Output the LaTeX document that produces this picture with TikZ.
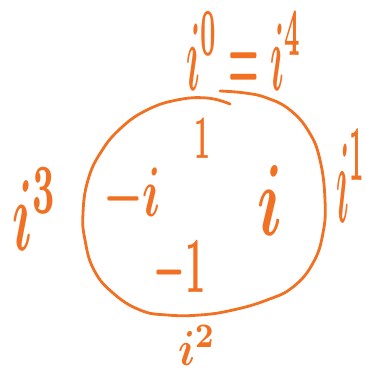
\documentclass[tikz,border=0pt]{standalone}
\usepackage{graphicx}
\definecolor{marker}{RGB}{241,112,34}
\tikzset{
  ink/.style={draw=marker, line width=2.8pt, line cap=round, line join=round},
  lbl/.style={text=marker, inner sep=0pt, outer sep=0pt, anchor=center}
}
\newcommand{\fitlbl}[3]{\resizebox*{#1pt}{#2pt}{\boldmath$#3$}}
\begin{document}
\begin{tikzpicture}[x=1pt,y=-1pt]
\useasboundingbox (0,0) rectangle (366,375);
% hand-drawn circle
\draw[ink] plot[smooth, tension=0.75] coordinates {
 (220,91) (245,93) (267,98) (290,110) (309,132) (320,160) (325,200)
 (323,233) (313,263) (293,287) (267,300) (233,310) (200,315) (167,315)
 (140,310) (113,293) (94,270) (85,240) (83,213) (88,180) (101,152)
 (121,128) (147,110) (177,100) (207,98) (230,104)};
% values inside
\node[lbl] (one)   at (203,138) {\fitlbl{16}{40}{1}};
\node[lbl] (mi)    at (132,197) {\fitlbl{58}{58}{-i}};
\node[lbl] (pi)    at (270,200) {\fitlbl{25}{70}{i}};
\node[lbl] (mone)  at (180,272) {\fitlbl{52}{62}{-1}};
% powers outside
\node[lbl] (p0)    at (244,51)  {\fitlbl{115}{78}{i^0=i^4}};
\node[lbl] (p3)    at (35,209)  {\fitlbl{45}{82}{i^3}};
\node[lbl] (p1)    at (351,176) {\fitlbl{29}{92}{i^1}};
\node[lbl] (p2)    at (197,345) {\fitlbl{38}{40}{i^2}};
\end{tikzpicture}
\end{document}
